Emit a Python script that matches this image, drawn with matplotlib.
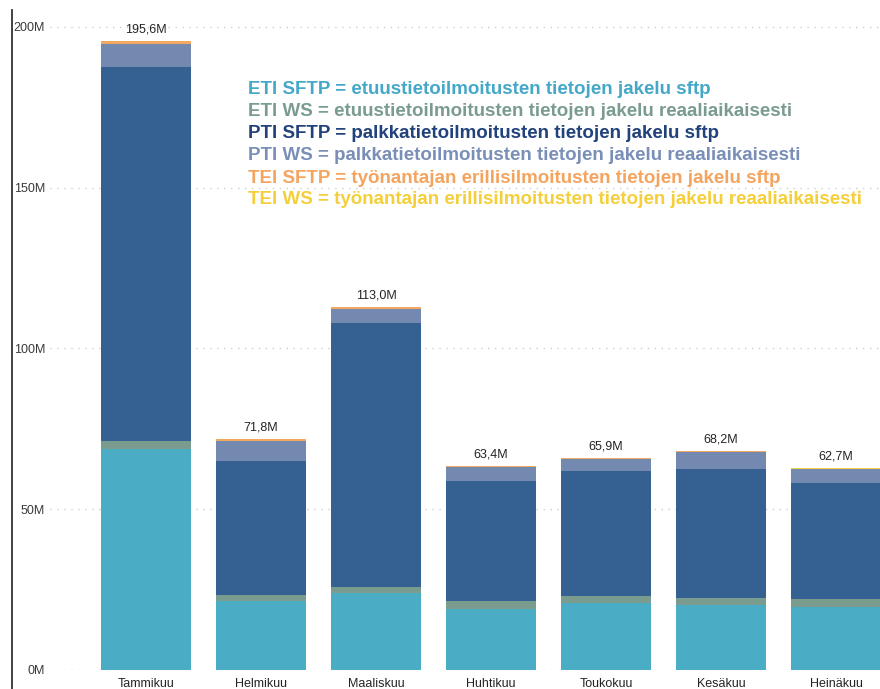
import matplotlib
matplotlib.use("Agg")
import matplotlib.pyplot as plt
from matplotlib.lines import Line2D

plt.rcParams['font.family'] = ['Liberation Sans', 'DejaVu Sans']

months = ["Tammikuu", "Helmikuu", "Maaliskuu", "Huhtikuu", "Toukokuu", "Kesäkuu", "Heinäkuu"]
eti_sftp = [68.7, 21.5, 23.9, 19.0, 20.7, 20.1, 19.7]
eti_ws = [2.5, 1.8, 1.9, 2.5, 2.2, 2.2, 2.4]
pti_sftp = [116.2, 41.8, 82.2, 37.2, 38.9, 40.3, 36.2]
pti_ws = [7.3, 6.2, 4.2, 4.3, 3.7, 5.3, 4.1]
tei_sftp = [0.8, 0.4, 0.7, 0.3, 0.3, 0.2, 0.2]
tei_ws = [0.1, 0.1, 0.1, 0.1, 0.1, 0.1, 0.1]
total_labels = ["195,6M", "71,8M", "113,0M", "63,4M", "65,9M", "68,2M", "62,7M"]
y_ticks = [0, 50, 100, 150, 200]
y_tick_labels = ["0M", "50M", "100M", "150M", "200M"]

series = [eti_sftp, eti_ws, pti_sftp, pti_ws, tei_sftp, tei_ws]
bar_colors = ["#4BACC6", "#7A9C8E", "#356092", "#7389B0", "#F2A85F", "#F5D33F"]

legend_lines = [
    "ETI SFTP = etuustietoilmoitusten tietojen jakelu sftp",
    "ETI WS = etuustietoilmoitusten tietojen jakelu reaaliaikaisesti",
    "PTI SFTP = palkkatietoilmoitusten tietojen jakelu sftp",
    "PTI WS = palkkatietoilmoitusten tietojen jakelu reaaliaikaisesti",
    "TEI SFTP = työnantajan erillisilmoitusten tietojen jakelu sftp",
    "TEI WS = työnantajan erillisilmoitusten tietojen jakelu reaaliaikaisesti",
]
legend_colors = ["#45A8C8", "#7A9C8E", "#22427C", "#7A8FB8", "#F4A45F", "#F5CF3A"]

W, H = 880, 689
fig = plt.figure(figsize=(W / 100, H / 100), dpi=100)
ax = fig.add_axes([50 / W, 19 / H, (W - 50) / W, (H - 19 - 15) / H])

x = list(range(len(months)))
bottom = [0.0] * len(months)
for vals, col in zip(series, bar_colors):
    ax.bar(x, vals, width=0.78, bottom=bottom, color=col, edgecolor="none", zorder=3)
    bottom = [b + v for b, v in zip(bottom, vals)]

for xi, tot, lab in zip(x, bottom, total_labels):
    ax.annotate(lab, (xi, tot), xytext=(0, 4), textcoords="offset points",
                ha="center", va="bottom", fontsize=9, color="#252423")

ax.set_xlim(-0.835, 6.383)
ax.set_ylim(0, 203.7)
ax.set_xticks(x)
ax.set_xticklabels(months, fontsize=9, color="#252423")
ax.set_yticks(y_ticks)
ax.set_yticklabels(y_tick_labels, fontsize=9, color="#3A3A3A")
ax.tick_params(axis="both", length=0)
ax.tick_params(axis="x", pad=6)
ax.tick_params(axis="y", pad=3.5)
for s in ax.spines.values():
    s.set_visible(False)
ax.yaxis.grid(True, color="#CFCFCF", linestyle=(0, (1, 4)), linewidth=1, zorder=0)
ax.set_axisbelow(True)

# left vertical rule
fig.add_artist(Line2D([12 / W, 12 / W], [0, 1 - 10 / H], transform=fig.transFigure,
                      color="#333333", linewidth=1.3))

# custom legend text
ys = [90, 112, 134, 156, 178, 200]
for txt, col, yy in zip(legend_lines, legend_colors, ys):
    fig.text(248 / W, 1 - yy / H, txt, color=col, fontsize=13.5, fontweight="bold",
             ha="left", va="center")

fig.savefig("out.png", dpi=100)
